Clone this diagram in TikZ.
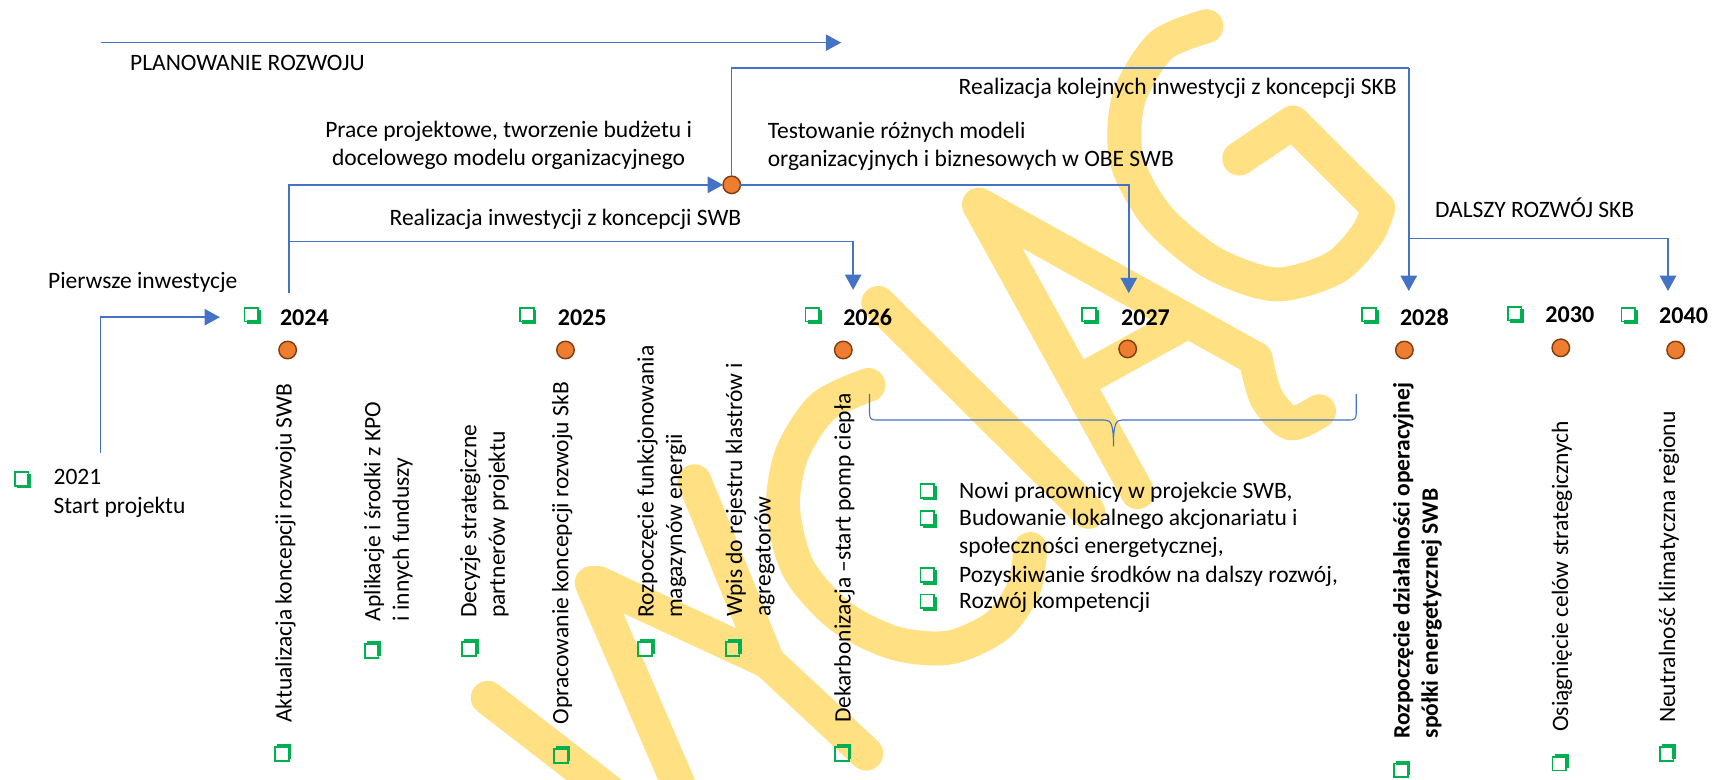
\documentclass[tikz,border=0pt]{standalone}
\usepackage{fontspec}
\setmainfont{Carlito}
\usetikzlibrary{arrows.meta}

\definecolor{lineblue}{HTML}{4472C4}
\definecolor{boxgreen}{HTML}{00B050}
\definecolor{dotfill}{HTML}{ED7D31}
\definecolor{dotedge}{HTML}{843C0C}
\definecolor{stamp}{RGB}{255,224,130}

\tikzset{
  ckbox/.pic={
    \draw[boxgreen, line width=1.6pt] (-7.5,-7.5) rectangle (5,5);
    \fill[boxgreen] (-5.5,4) rectangle (7.5,7.5);
    \fill[boxgreen] (4,-5.5) rectangle (7.5,7.5);
  }
}

\begin{document}
\begin{tikzpicture}[x=1pt, y=-1pt,
  every node/.style={inner sep=0pt, outer sep=0pt, font=\fontsize{21.5}{26}\selectfont},
  lbl/.style={anchor=west},
  yearlbl/.style={anchor=west, font=\fontsize{22}{26}\selectfont\bfseries},
  vlbl/.style={anchor=west, rotate=90, align=left},
  dot/.style={circle, draw=dotedge, fill=dotfill, line width=1.3pt, minimum size=16pt},
  flow/.style={draw=lineblue, line width=1.4pt},
  arr/.style={flow, -{Triangle[length=14pt,width=15pt]}},
  wm/.style={draw=stamp, line width=31pt, line cap=round, line join=round},
]
\useasboundingbox (0,0) rectangle (1568,713);
\fill[white] (0,0) rectangle (1568,713);

% stamp lettering in the background
\begin{scope}
  \clip (0,0) rectangle (1568,713);
  % W
  \draw[wm] (446,638) -- (565,730);
  \draw[wm] (541,533) -- (628,735);
  % Y
  \draw[wm] (547,533) -- (702,605) -- (792,689);
  \draw[wm] (635,440) -- (702,605);
  % C
  \draw[wm] plot[smooth] coordinates {(794,352) (752,372) (724,415) (716,465) (730,520) (768,563) (818,588) (868,592) (912,572) (936,538) (942,502)};
  % I
  \draw[wm] (803,277) -- (995,468);
  % A with ogonek
  \draw[wm] (1040,450) -- (895,187) -- (1148,328);
  \draw[wm] plot[smooth] coordinates {(1148,328) (1158,364) (1180,387) (1206,376)};
  \draw[wm] (995,344) -- (1075,300);
  % G
  \draw[wm] plot[smooth] coordinates {(1103,24) (1061,42) (1032,90) (1030,146) (1058,198) (1108,240) (1166,260) (1220,245) (1250,214) (1260,190)};
  \draw[wm] (1260,190) -- (1182,112) -- (1133,145);
\end{scope}

% connector end points
\coordinate (planA) at (92,39);
\coordinate (planB) at (769,39);
\coordinate (c24top) at (264,268);
\coordinate (c24mid) at (264,221);
\coordinate (t26) at (780,265);
\coordinate (t27) at (1032,268);
\coordinate (skbTop) at (1288,62);
\coordinate (t28) at (1288,266);
\coordinate (fork) at (1288,218);
\coordinate (t40) at (1525,266);
\coordinate (startA) at (92,414);
\coordinate (t24) at (201,290);

% hub of the planning lines
\node[dot] (hub) at (669,169) {};

% flow lines
\draw[arr] (planA) -- (planB);
\draw[arr] (c24top) |- (hub);
\draw[arr] (c24mid) -| (t26);
\draw[arr] (hub) -| (t27);
\draw[flow] (hub) |- (skbTop);
\draw[arr] (skbTop) -- (t28);
\draw[arr] (fork) -| (t40);
\draw[arr] (startA) |- (t24);

% phase labels
\node[lbl] (plan) at (119,58) {PLANOWANIE ROZWOJU};
\node[anchor=east] (kolejne) at (1277,81) {Realizacja kolejnych inwestycji z koncepcji SKB};
\node[align=center] (prace) at (465,133) {Prace projektowe, tworzenie budżetu i\\docelowego modelu organizacyjnego};
\node[lbl, align=left] (test) at (702,134) {Testowanie różnych modeli\\organizacyjnych i biznesowych w OBE SWB};
\node (realSWB) at (517,201) {Realizacja inwestycji z koncepcji SWB};
\node[lbl] (dalszy) at (1312,190) {DALSZY ROZWÓJ SKB};
\node[lbl] (pierwsze) at (44,258) {Pierwsze inwestycje};

% start of project
\pic at (21,439) {ckbox};
\node[lbl, align=left] (start) at (49,451) {2021\\Start projektu};

% years
\pic at (231,289) {ckbox};
\node[yearlbl] (y2024) at (256,290) {2024};
\pic at (483,289) {ckbox};
\node[yearlbl] (y2025) at (510,290) {2025};
\pic at (744,289) {ckbox};
\node[yearlbl] (y2026) at (771,290) {2026};
\pic at (997,289) {ckbox};
\node[yearlbl] (y2027) at (1025,290) {2027};
\pic at (1253,289) {ckbox};
\node[yearlbl] (y2028) at (1280,290) {2028};
\pic at (1386,288) {ckbox};
\node[yearlbl] (y2030) at (1413,288) {2030};
\pic at (1490,289) {ckbox};
\node[yearlbl] (y2040) at (1517,289) {2040};

% milestones
\node[dot] (m2024) at (263,320) {};
\node[dot] (m2025) at (517,320) {};
\node[dot] (m2026) at (771,320) {};
\node[dot] (m2027) at (1031,319) {};
\node[dot] (m2028) at (1284,320) {};
\node[dot] (m2030) at (1427,318) {};
\node[dot] (m2040) at (1532,320) {};

% vertical milestone descriptions
\node[vlbl] (akt) at (261,661) {Aktualizacja koncepcji rozwoju SWB};
\pic[rotate=90] at (259,688) {ckbox};
\node[vlbl] (apl) at (355,568) {Aplikacje i środki z KPO\\i innych funduszy};
\pic[rotate=90] at (341,594) {ckbox};
\node[vlbl] (dec) at (443,565) {Decyzje strategiczne\\partnerów projektu};
\pic[rotate=90] at (430,592) {ckbox};
\node[vlbl] (opr) at (514,662) {Opracowanie koncepcji rozwoju SkB};
\pic[rotate=90] at (514,690) {ckbox};
\node[vlbl] (roz) at (605,565) {Rozpoczęcie funkcjonowania\\magazynów energii};
\pic[rotate=90] at (591,592) {ckbox};
\node[vlbl] (wpis) at (686,564) {Wpis do rejestru klastrów i\\agregatorów};
\pic[rotate=90] at (671,592) {ckbox};
\node[vlbl] (dek) at (772,661) {Dekarbonizacja –start pomp ciepła};
\pic[rotate=90] at (771,688) {ckbox};
\node[vlbl, font=\fontsize{21.5}{26}\selectfont\bfseries] (ops) at (1296,675) {Rozpoczęcie działalności operacyjnej\\spółki energetycznej SWB};
\pic[rotate=90] at (1282,703) {ckbox};
\node[vlbl] (cel) at (1428,669) {Osiągnięcie celów strategicznych};
\pic[rotate=90] at (1427,697) {ckbox};
\node[vlbl] (neu) at (1526,661) {Neutralność klimatyczna regionu};
\pic[rotate=90] at (1525,688) {ckbox};

% brace over 2026-2028
\coordinate (brL) at (795,360);
\coordinate (brM) at (1018,408);
\coordinate (brR) at (1240,360);
\draw[lineblue, line width=1pt] (brL) -- (795,378) .. controls (795,383) and (797,384) .. (801,384)
  -- (1010,384) .. controls (1016,384) and (1018,388) .. (brM)
  .. controls (1018,388) and (1020,384) .. (1026,384) -- (1234,384)
  .. controls (1238,384) and (1240,383) .. (1240,378) -- (brR);

% activities list
\pic at (849,450) {ckbox};
\node[lbl] (b1) at (877,450) {Nowi pracownicy w projekcie SWB,};
\pic at (849,475) {ckbox};
\node[lbl, align=left, font=\fontsize{21.5}{25}\selectfont] (b2) at (877,487.5) {Budowanie lokalnego akcjonariatu i\\społeczności energetycznej,};
\pic at (849,527) {ckbox};
\node[lbl] (b3) at (877,527) {Pozyskiwanie środków na dalszy rozwój,};
\pic at (849,551) {ckbox};
\node[lbl] (b4) at (877,551) {Rozwój kompetencji};
\end{tikzpicture}
\end{document}
